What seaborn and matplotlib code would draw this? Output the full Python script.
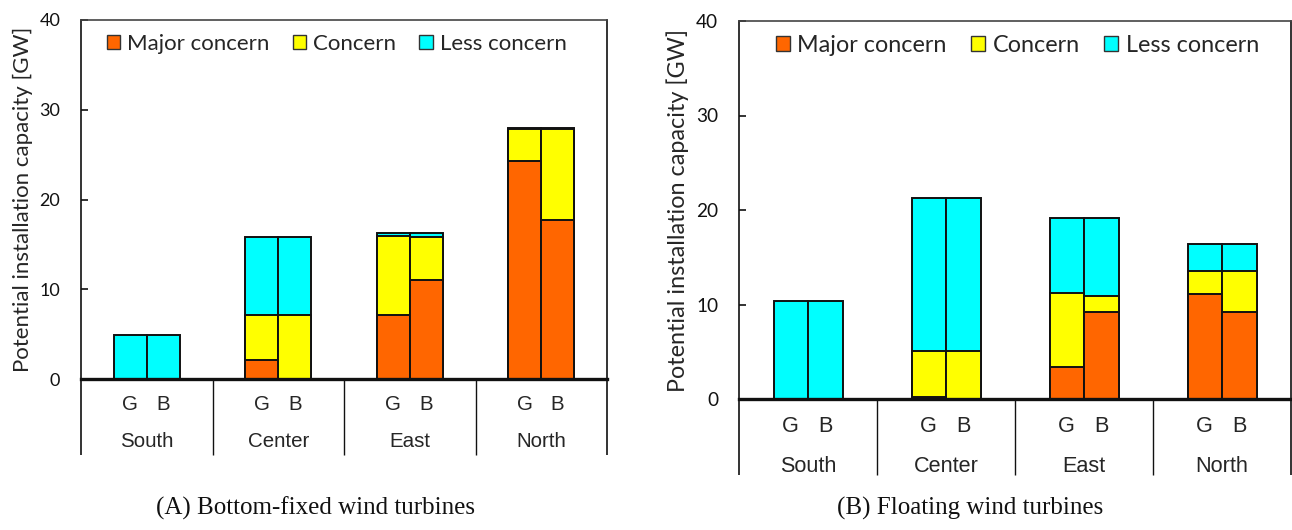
import matplotlib
matplotlib.use("Agg")
import matplotlib.pyplot as plt
from matplotlib.patches import Patch
import numpy as np
import pandas as pd
import seaborn as sns

# ---- data -----------------------------------------------------------------
regions = ["South", "Center", "East", "North"]
scenarios = ["G", "B"]
concern_levels = ["Major concern", "Concern", "Less concern"]

# Bottom-fixed wind turbines [GW], per region, for scenario G and B
fixed_major_G = [0.0, 2.1, 7.1, 24.3]
fixed_major_B = [0.0, 0.0, 11.0, 17.7]
fixed_concern_G = [0.0, 5.0, 8.8, 3.5]
fixed_concern_B = [0.0, 7.1, 4.8, 10.1]
fixed_less_G = [4.9, 8.7, 0.4, 0.2]
fixed_less_B = [4.9, 8.7, 0.5, 0.2]

# Floating wind turbines [GW]
float_major_G = [0.0, 0.2, 3.4, 11.1]
float_major_B = [0.0, 0.0, 9.2, 9.2]
float_concern_G = [0.0, 4.9, 7.8, 2.4]
float_concern_B = [0.0, 5.1, 1.7, 4.3]
float_less_G = [10.4, 16.2, 8.0, 2.9]
float_less_B = [10.4, 16.2, 8.3, 2.9]

panel_titles = ["(A) Bottom-fixed wind turbines", "(B) Floating wind turbines"]
y_label = "Potential installation capacity [GW]"
y_ticks = [0, 10, 20, 30, 40]

colors = {"Major concern": "#FF6600", "Concern": "#FFFF00", "Less concern": "#00FFFF"}


def build_frame(major_G, major_B, concern_G, concern_B, less_G, less_B):
    rows = []
    for sc, maj, con, les in (("G", major_G, concern_G, less_G),
                              ("B", major_B, concern_B, less_B)):
        for r, a, b, c in zip(regions, maj, con, les):
            rows.append({"region": r, "scenario": sc,
                         "Major concern": a, "Concern": b, "Less concern": c})
    df = pd.DataFrame(rows)
    # cumulative heights for layered stacking
    df["cum_major"] = df["Major concern"]
    df["cum_concern"] = df["cum_major"] + df["Concern"]
    df["cum_less"] = df["cum_concern"] + df["Less concern"]
    return df


frames = [
    build_frame(fixed_major_G, fixed_major_B, fixed_concern_G, fixed_concern_B,
                fixed_less_G, fixed_less_B),
    build_frame(float_major_G, float_major_B, float_concern_G, float_concern_B,
                float_less_G, float_less_B),
]

# ---- style ----------------------------------------------------------------
sns.set_theme(style="white")
plt.rcParams["font.family"] = ["Lato", "DejaVu Sans"]

W, H = 1292, 530
fig = plt.figure(figsize=(W / 100, H / 100), dpi=100)

# axes boxes in pixels: left, top(frame), right, bottom(zero line)
boxes = [(81, 20, 607, 379), (739, 21, 1291, 399)]
scales = [1.0, 1.05]
legend_centers = [0.486, 0.504]
legend_tops = [1.005, 1.007]
title_x = [316, 970]

for k, (df, box) in enumerate(zip(frames, boxes)):
    x0, y0, x1, y1 = box
    s = scales[k]
    ax = fig.add_axes([x0 / W, (H - y1) / H, (x1 - x0) / W, (y1 - y0) / H])

    # layered stacks: total first, then lower cumulative sums on top
    for col, level in (("cum_less", "Less concern"),
                       ("cum_concern", "Concern"),
                       ("cum_major", "Major concern")):
        sns.barplot(data=df, x="region", y=col, hue="scenario",
                    order=regions, hue_order=scenarios,
                    palette=[colors[level], colors[level]],
                    width=0.5, saturation=1, errorbar=None, dodge=True,
                    edgecolor="#111111", linewidth=1.4, legend=False, ax=ax)

    ax.set_xlim(-0.5, 3.5)
    ax.set_ylim(0, 40)
    ax.set_yticks(y_ticks)
    ax.set_yticklabels([str(t) for t in y_ticks], fontsize=13 * s)
    ax.tick_params(axis="y", direction="in", length=5, width=1.2,
                   left=True, pad=15, colors="#111111")
    ax.set_xlabel("")
    ax.set_ylabel(y_label, fontsize=16 * s)
    ax.yaxis.set_label_coords(-0.091, 0.5)

    # region names (major ticks) and scenario letters (minor ticks)
    ax.set_xticks(range(len(regions)))
    ax.set_xticklabels(regions, fontsize=14.8 * s, family="Liberation Sans")
    ax.set_xticks([i + d for i in range(len(regions)) for d in (-0.125, 0.125)],
                  minor=True)
    ax.set_xticklabels(scenarios * len(regions), minor=True, fontsize=14.8 * s,
                       family="Liberation Sans")
    depth = 76 / (y1 - y0)
    ax.tick_params(axis="x", which="major", length=0, pad=38.5 * s + (0.5 if k else 0))
    ax.tick_params(axis="x", which="minor", length=0, pad=11.5 * s, bottom=True)

    for sp in ax.spines.values():
        sp.set_visible(True)
        sp.set_color("#111111")
        sp.set_linewidth(1.2)
    ax.spines["bottom"].set_linewidth(2.4)
    ax.spines["top"].set_color("#444444")

    # group separators below the zero line
    trans = ax.get_xaxis_transform()
    for xs in np.arange(-0.5, len(regions), 1.0):
        ax.plot([xs, xs], [0, -depth], transform=trans, color="#111111",
                lw=1.0 if -0.5 < xs < len(regions) - 0.5 else 1.2,
                clip_on=False, solid_capstyle="butt")

    handles = [Patch(facecolor=colors[l], edgecolor="#333333", linewidth=1.0, label=l)
               for l in concern_levels]
    ax.legend(handles=handles, ncol=3, loc="upper center",
              bbox_to_anchor=(legend_centers[k], legend_tops[k]), frameon=False,
              fontsize=16 * s, handlelength=0.6, handleheight=0.6,
              handletextpad=0.32, columnspacing=1.05, borderaxespad=0.3)

    fig.text(title_x[k] / W, 1 - 508 / H, panel_titles[k], ha="center", va="center",
             fontsize=18, family="Liberation Serif", color="#111111")

fig.savefig("out.png", dpi=100, facecolor="white")
